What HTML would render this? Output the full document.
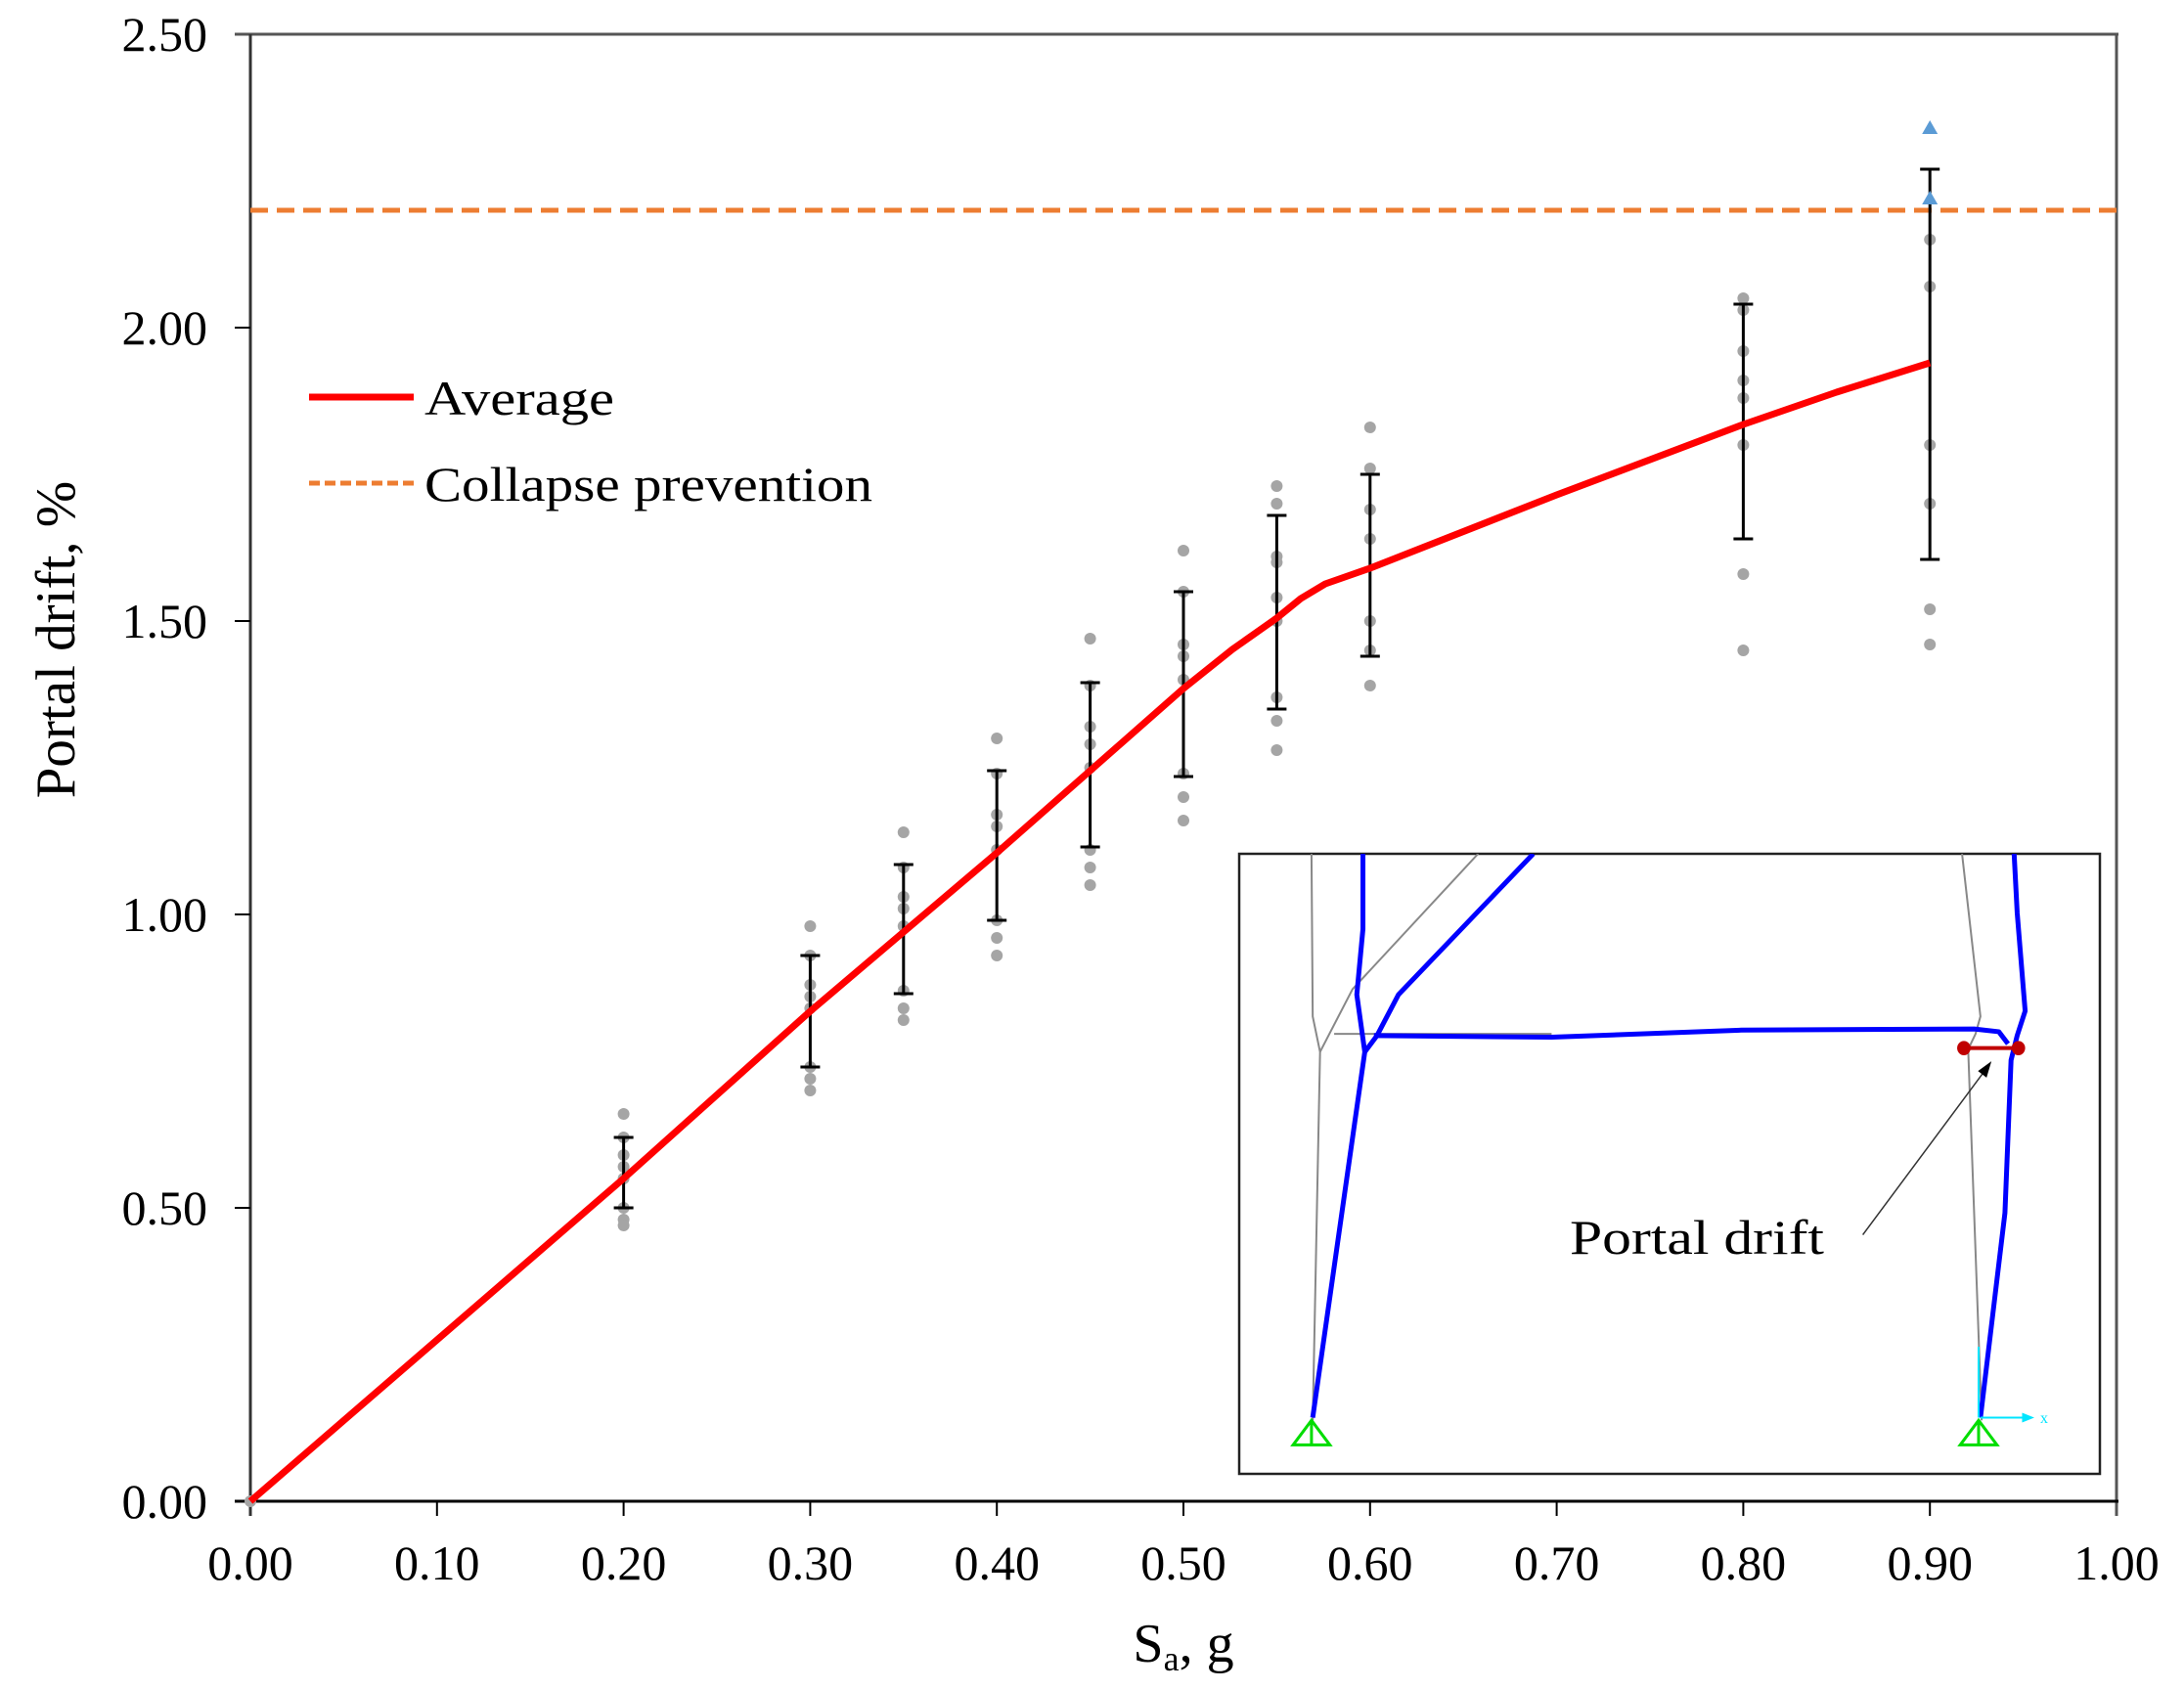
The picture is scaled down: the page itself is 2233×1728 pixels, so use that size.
<!DOCTYPE html>
<html><head><meta charset="utf-8"><style>
html,body{margin:0;padding:0;background:#fff;}
svg{display:block;}
text{font-family:"Liberation Serif",serif;fill:#000;}
</style></head><body>
<svg id="s" width="2233" height="1728" viewBox="0 0 2233 1728" xmlns="http://www.w3.org/2000/svg">
<rect width="2233" height="1728" fill="#fff"/>
<line x1="240" y1="35" x2="2166" y2="35" stroke="#555" stroke-width="3"/>
<line x1="2164" y1="35" x2="2164" y2="1550" stroke="#555" stroke-width="3"/>
<line x1="256" y1="35" x2="256" y2="1550" stroke="#333" stroke-width="3"/>
<line x1="240" y1="1535" x2="2166" y2="1535" stroke="#000" stroke-width="3"/>
<g stroke="#000" stroke-width="2">
<line x1="240" y1="335" x2="256" y2="335"/><line x1="240" y1="635" x2="256" y2="635"/>
<line x1="240" y1="935" x2="256" y2="935"/><line x1="240" y1="1235" x2="256" y2="1235"/>
<line x1="446.8" y1="1535" x2="446.8" y2="1550"/><line x1="637.6" y1="1535" x2="637.6" y2="1550"/>
<line x1="828.4" y1="1535" x2="828.4" y2="1550"/><line x1="1019.2" y1="1535" x2="1019.2" y2="1550"/>
<line x1="1210" y1="1535" x2="1210" y2="1550"/><line x1="1400.8" y1="1535" x2="1400.8" y2="1550"/>
<line x1="1591.6" y1="1535" x2="1591.6" y2="1550"/><line x1="1782.4" y1="1535" x2="1782.4" y2="1550"/>
<line x1="1973.2" y1="1535" x2="1973.2" y2="1550"/>
</g>
<g font-size="50" text-anchor="end">
<text x="212" y="52">2.50</text><text x="212" y="352">2.00</text><text x="212" y="652">1.50</text>
<text x="212" y="952">1.00</text><text x="212" y="1252">0.50</text><text x="212" y="1552">0.00</text>
</g>
<g font-size="50" text-anchor="middle">
<text x="256" y="1615">0.00</text><text x="446.8" y="1615">0.10</text><text x="637.6" y="1615">0.20</text>
<text x="828.4" y="1615">0.30</text><text x="1019.2" y="1615">0.40</text><text x="1210" y="1615">0.50</text>
<text x="1400.8" y="1615">0.60</text><text x="1591.6" y="1615">0.70</text><text x="1782.4" y="1615">0.80</text>
<text x="1973.2" y="1615">0.90</text><text x="2164" y="1615">1.00</text>
</g>
<text x="1210" y="1699" font-size="56" text-anchor="middle">S<tspan font-size="36" dy="9">a</tspan><tspan dy="-9">, g</tspan></text>
<text transform="translate(76,654) rotate(-90)" font-size="57" text-anchor="middle">Portal drift, %</text>
<line x1="256" y1="215" x2="2164" y2="215" stroke="#ED7D31" stroke-width="5" stroke-dasharray="18,9"/>
<g id="data"></g>
<polyline fill="none" stroke="#FF0000" stroke-width="7" stroke-linejoin="round" points="256,1535 637.6,1205 828.4,1034 923.8,953 1019.2,872 1114.6,788 1210,704 1260,664 1305.4,632 1330,612 1355,597 1400.8,581 1591.6,506 1782.4,434 1877.8,401 1973.2,371"/>
<line x1="316" y1="406" x2="423" y2="406" stroke="#FF0000" stroke-width="7"/>
<text x="434" y="424" font-size="50" textLength="194" lengthAdjust="spacingAndGlyphs">Average</text>
<line x1="316" y1="494" x2="423" y2="494" stroke="#ED7D31" stroke-width="5" stroke-dasharray="11,5"/>
<text x="434" y="512" font-size="50" textLength="458" lengthAdjust="spacingAndGlyphs">Collapse prevention</text>
<rect x="1267" y="873" width="880" height="634" fill="#fff" stroke="#222" stroke-width="2.5"/>
<svg x="1267" y="873" width="880" height="634" viewBox="30 42 1405 1136" preserveAspectRatio="none">
<g fill="none" stroke="#888" stroke-width="2">
<polyline vector-effect="non-scaling-stroke" points="148,42 150,340 162,405 150,1080"/>
<polyline vector-effect="non-scaling-stroke" points="162,405 215,290 420,42"/>
<polyline vector-effect="non-scaling-stroke" points="185,372 540,372"/>
<polyline vector-effect="non-scaling-stroke" points="1210,42 1240,340 1232,372 1220,400 1242,1080"/>
</g>
<g fill="none" stroke="#0000FF" stroke-width="5" stroke-linejoin="round">
<polyline vector-effect="non-scaling-stroke" points="232,42 232,180 222,300 235,405 150,1075"/>
<polyline vector-effect="non-scaling-stroke" points="510,42 290,300 255,375 235,405"/>
<polyline vector-effect="non-scaling-stroke" points="250,375 540,378 850,365 1230,363 1270,368 1285,390"/>
<polyline vector-effect="non-scaling-stroke" points="1295,42 1300,150 1313,330 1300,375 1290,420 1280,700 1240,1075"/>
</g>
<line x1="1213" y1="398" x2="1302" y2="398" stroke="#C00000" stroke-width="4" vector-effect="non-scaling-stroke"/>
<ellipse cx="1213" cy="398" rx="11" ry="13" fill="#C00000"/>
<ellipse cx="1302" cy="398" rx="11" ry="13" fill="#C00000"/>
<line x1="1048" y1="740" x2="1250" y2="435" stroke="#333" stroke-width="1.5" vector-effect="non-scaling-stroke"/>
<polygon points="1258,422 1236,440 1250,452" fill="#000"/>
<g fill="none" stroke="#00DD00" stroke-width="3">
<polygon vector-effect="non-scaling-stroke" points="148,1080 118,1125 178,1125"/>
<line vector-effect="non-scaling-stroke" x1="148" y1="1080" x2="148" y2="1125"/>
<polygon vector-effect="non-scaling-stroke" points="1237,1080 1207,1125 1267,1125"/>
<line vector-effect="non-scaling-stroke" x1="1237" y1="1080" x2="1237" y2="1125"/>
</g>
<g stroke="#00E5FF" stroke-width="2" fill="none">
<line vector-effect="non-scaling-stroke" x1="1240" y1="1075" x2="1320" y2="1075"/>
<line vector-effect="non-scaling-stroke" x1="1237" y1="1075" x2="1237" y2="945"/>
</g>
<polygon points="1328,1075 1308,1066 1308,1084" fill="#00E5FF"/>
</svg>
<text x="2086" y="1455" font-size="16" style="fill:#00E5FF">x</text>
<text x="1605" y="1282" font-size="50" textLength="260" lengthAdjust="spacingAndGlyphs">Portal drift</text>
</svg>
<script>
(function(){
var g=document.getElementById('data'),ns='http://www.w3.org/2000/svg';
function X(v){return 256+1908*v;}function Y(v){return 1535-600*v;}
var d=[
[0.2,[0.66,0.62,0.59,0.57,0.55,0.50,0.48,0.47],0.50,0.62],
[0.3,[0.98,0.93,0.88,0.86,0.84,0.74,0.72,0.70],0.74,0.93],
[0.35,[1.14,1.08,1.03,1.01,0.98,0.87,0.84,0.82],0.865,1.085],
[0.4,[1.30,1.24,1.17,1.15,1.11,0.99,0.96,0.93],0.99,1.245],
[0.45,[1.47,1.39,1.32,1.29,1.25,1.11,1.08,1.05],1.115,1.395],
[0.5,[1.62,1.55,1.46,1.44,1.40,1.24,1.20,1.16],1.235,1.55],
[0.55,[1.73,1.70,1.61,1.60,1.54,1.50,1.37,1.33,1.28],1.35,1.68],
[0.6,[1.83,1.76,1.69,1.64,1.50,1.45,1.39],1.44,1.75],
[0.8,[2.05,2.03,1.96,1.91,1.88,1.80,1.58,1.45],1.64,2.04],
[0.9,[2.15,2.07,1.80,1.70,1.52,1.46],1.605,2.27]];
function el(n,a){var e=document.createElementNS(ns,n);for(var k in a)e.setAttribute(k,a[k]);g.appendChild(e);return e;}
el('circle',{cx:256,cy:1535,r:6,fill:'#A5A5A5'});
d.forEach(function(r){var x=X(r[0]);
r[1].forEach(function(v){el('circle',{cx:x,cy:Y(v),r:6,fill:'#A5A5A5'});});
el('line',{x1:x,y1:Y(r[2]),x2:x,y2:Y(r[3]),stroke:'#000','stroke-width':3});
el('line',{x1:x-10,y1:Y(r[2]),x2:x+10,y2:Y(r[2]),stroke:'#000','stroke-width':3});
el('line',{x1:x-10,y1:Y(r[3]),x2:x+10,y2:Y(r[3]),stroke:'#000','stroke-width':3});});
[2.34,2.22].forEach(function(v){var x=X(0.9),y=Y(v);el('polygon',{points:(x-8)+','+(y+6)+' '+(x+8)+','+(y+6)+' '+x+','+(y-8),fill:'#5B9BD5'});});
})();
</script>
</body></html>
